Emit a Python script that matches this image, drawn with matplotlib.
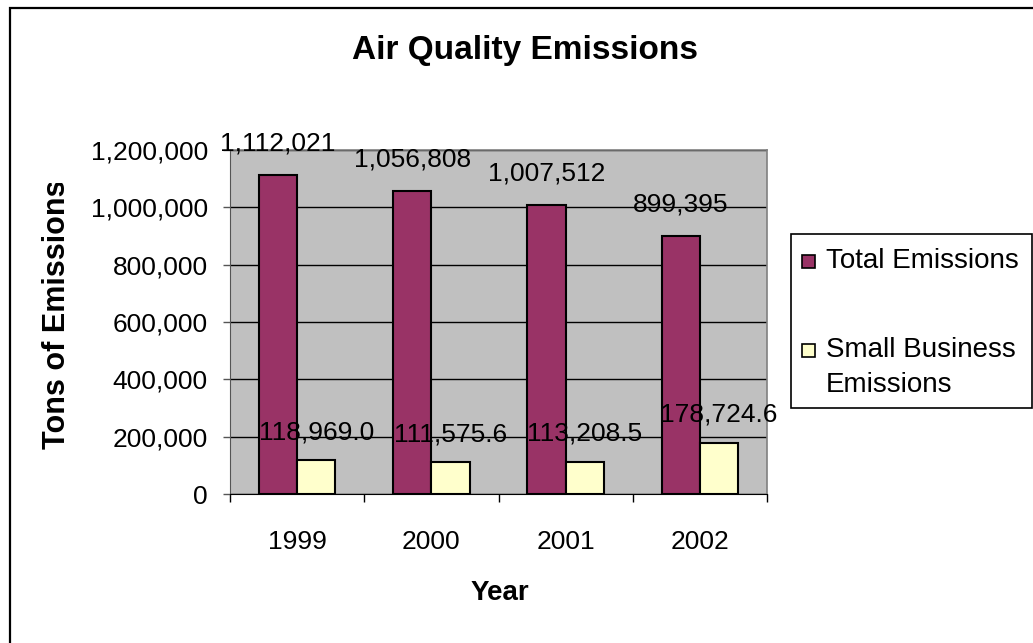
import matplotlib
matplotlib.use("Agg")
import matplotlib.pyplot as plt
import numpy as np
from matplotlib.patches import Rectangle
from matplotlib.ticker import FuncFormatter, FixedLocator

plt.rcParams['font.family'] = ['Liberation Sans', 'DejaVu Sans']

# data
years = ['1999', '2000', '2001', '2002']
total_emissions = [1112021, 1056808, 1007512, 899395]
small_business = [118969.0, 111575.6, 113208.5, 178724.6]
total_labels = ['1,112,021', '1,056,808', '1,007,512', '899,395']
small_labels = ['118,969.0', '111,575.6', '113,208.5', '178,724.6']
series_names = ['Total Emissions', 'Small Business\nEmissions']
series_colors = ['#993366', '#FFFFCC']

W, H = 1033, 643
fig = plt.figure(figsize=(W / 100, H / 100), dpi=100)
fig.patch.set_facecolor('white')

# outer chart frame (right/bottom run off the picture)
fig.patches.append(Rectangle((10 / W, -0.05), 1.2, 1 - 8 / H + 0.05,
                             transform=fig.transFigure, fill=False,
                             edgecolor='black', linewidth=1.6))

ax = fig.add_axes([230 / W, 1 - 494 / H, 537 / W, 344 / H])
ax.set_facecolor('#C0C0C0')

x = np.arange(len(years))
bw = 1 / 3.5
b1 = ax.bar(x - bw / 2, total_emissions, bw, color=series_colors[0],
            edgecolor='black', linewidth=1.5, zorder=3)
b2 = ax.bar(x + bw / 2, small_business, bw, color=series_colors[1],
            edgecolor='black', linewidth=1.5, zorder=3)

for rect, lab in zip(b1, total_labels):
    ax.annotate(lab, (rect.get_x() + rect.get_width() / 2, rect.get_height()),
                xytext=(0, 18), textcoords='offset points', ha='center',
                va='baseline', fontsize=19, zorder=5, annotation_clip=False)
for rect, lab in zip(b2, small_labels):
    ax.annotate(lab, (rect.get_x() + rect.get_width() / 2, rect.get_height()),
                xytext=(0, 15), textcoords='offset points', ha='center',
                va='baseline', fontsize=19, zorder=5, annotation_clip=False)

ax.set_xlim(-0.5, len(years) - 0.5)
ax.set_ylim(0, 1200000)
ax.set_yticks(np.arange(0, 1200001, 200000))
ax.yaxis.set_major_formatter(FuncFormatter(lambda v, p: f'{int(v):,}'))
ax.grid(axis='y', color='black', linewidth=1.0, zorder=1)
ax.tick_params(axis='y', length=5, width=1, color='#555555', pad=11, labelsize=19)

ax.set_xticks(x)
ax.set_xticklabels(years)
ax.xaxis.set_minor_locator(FixedLocator(np.arange(-0.5, len(years), 1)))
ax.tick_params(axis='x', which='major', length=0, pad=26, labelsize=19)
ax.tick_params(axis='x', which='minor', length=6, width=1, color='black')

for s in ['top', 'right']:
    ax.spines[s].set_color('#808080')
    ax.spines[s].set_linewidth(1.2)
ax.spines['left'].set_color('#555555')
ax.spines['bottom'].set_color('black')

fig.text(525 / W, 1 - 51 / H, 'Air Quality Emissions', ha='center', va='center',
         fontsize=24, fontweight='bold')
fig.text(500 / W, 1 - 593 / H, 'Year', ha='center', va='center',
         fontsize=20, fontweight='bold')
yl = fig.text(57 / W, 1 - 314 / H, 'Tons of Emissions', ha='center', va='center',
              rotation=90, fontsize=22, fontweight='bold')
clip = Rectangle((0, 0), 1, 1 - 183 / H, transform=fig.transFigure)
yl.set_clip_path(clip)

# legend box drawn by hand so the swatch sits on the first text line
fig.patches.append(Rectangle((791 / W, 1 - 408 / H), 241 / W, 174 / H,
                             transform=fig.transFigure, facecolor='white',
                             edgecolor='black', linewidth=1.2))
entry_y = [261, 350]
for name, col, yy in zip(series_names, series_colors, entry_y):
    fig.patches.append(Rectangle((802 / W, 1 - (yy + 7) / H), 13 / W, 13 / H,
                                 transform=fig.transFigure, facecolor=col,
                                 edgecolor='black', linewidth=1.2))
    fig.text(826 / W, 1 - (yy - 13) / H, name, ha='left', va='top',
             fontsize=20, linespacing=1.45)

fig.savefig('out.png', dpi=100)
